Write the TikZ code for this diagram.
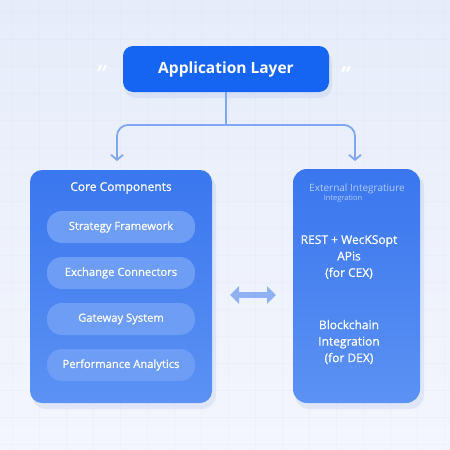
\documentclass[tikz,border=0pt]{standalone}
\usepackage{fontspec}
\setmainfont{Open Sans}
\newfontfamily\medfont{Open Sans}[FakeBold=0.8]
\usetikzlibrary{arrows.meta}
\definecolor{bgtop}{HTML}{E6ECFA}
\definecolor{bgbot}{HTML}{F4F6FD}
\definecolor{gridc}{HTML}{D5DDF2}
\definecolor{appblue}{HTML}{1565F2}
\definecolor{boxtop}{HTML}{3A76EE}
\definecolor{boxbot}{HTML}{5B92F3}
\definecolor{pillc}{HTML}{6E9DF5}
\definecolor{conn}{HTML}{7FA6F0}
\definecolor{dbl}{HTML}{8FB0F3}
\definecolor{faintt}{HTML}{B3CBF9}
\definecolor{shadowc}{HTML}{9DB4E8}
\tikzset{
  appbox/.style={fill=appblue, rounded corners=10, minimum width=206, minimum height=46,
    text=white, font=\fontsize{15.5}{18}\selectfont\bfseries, inner sep=0},
  panel/.style={rounded corners=12, inner sep=0},
  pillbox/.style={fill=pillc, rounded corners=15, minimum width=148, minimum height=32,
    text=white, font=\medfont\fontsize{11.2}{13}\selectfont, inner sep=0},
  wtext/.style={text=white, font=\medfont\fontsize{12}{16.5}\selectfont, align=center, inner sep=0},
  conline/.style={draw=conn, line width=1.8, rounded corners=11},
  quotem/.style={text=white, font=\fontsize{22}{22}\selectfont\itshape\bfseries, inner sep=0},
}
\begin{document}
\begin{tikzpicture}[x=1pt,y=-1pt]
\useasboundingbox (0,0) rectangle (450,450);
\shade[top color=bgtop, bottom color=bgbot] (0,0) rectangle (450,450);
\foreach \g in {12,39,...,450} {
  \draw[gridc, line width=0.4, opacity=0.18] (\g,0) -- (\g,450);
  \draw[gridc, line width=0.4, opacity=0.18] (0,\g) -- (450,\g);
}
% shadows
\fill[shadowc, opacity=0.22, rounded corners=12] (124,50) rectangle (332,98);
\fill[shadowc, opacity=0.22, rounded corners=14] (32,174) rectangle (216,409);
\fill[shadowc, opacity=0.22, rounded corners=14] (295,173) rectangle (424,409);
% top node
\node[appbox] (app) at (226,69) {Application Layer};
\node[quotem] (q1) at (101,74) {”};
\node[quotem] (q2) at (345,75) {”};
% panels
\shade[panel, top color=boxtop, bottom color=boxbot] (30,170) rectangle (212,403);
\node[minimum width=182, minimum height=233, inner sep=0] (core) at (121,286.5) {};
\shade[panel, rounded corners=14, top color=boxtop, bottom color=boxbot] (293,169) rectangle (420,403);
\node[minimum width=127, minimum height=234, inner sep=0] (ext) at (356.5,286) {};
% connector
\coordinate (split) at (226,125);
\coordinate (ltip) at (117,161);
\coordinate (rtip) at (355,161);
\draw[conline] (app.south) -- (split);
\draw[conline, -{Straight Barb[length=5,width=12,line width=1.8]}] (split) -| (ltip);
\draw[conline, -{Straight Barb[length=5,width=12,line width=1.8]}] (split) -| (rtip);
% left content
\node[wtext, font=\medfont\fontsize{12}{14}\selectfont] (coretitle) at (121,188) {Core Components};
\node[pillbox] (p1) at (121,227) {Strategy Framework};
\node[pillbox] (p2) at (121,273) {Exchange Connectors};
\node[pillbox] (p3) at (121,319) {Gateway System};
\node[pillbox] (p4) at (121,365) {Performance Analytics};
% right content
\node[text=faintt, font=\fontsize{10}{12}\selectfont, inner sep=0] (exttitle) at (357,189) {External Integratiure};
\node[text=faintt, font=\fontsize{7.5}{10}\selectfont, inner sep=0] (extsub) at (343,199) {Integration};
\node[wtext] (rest) at (349,257) {REST + WecKSopt\\APis\\(for CEX)};
\node[wtext] (chain) at (349,342) {Blockchain\\Integration\\(for DEX)};
% double arrow
\coordinate (da) at (230,295);
\coordinate (db) at (276,295);
\draw[dbl, line width=5.5, {Triangle[length=9,width=17]}-{Triangle[length=9,width=17]}] (da) -- (db);
\end{tikzpicture}
\end{document}
